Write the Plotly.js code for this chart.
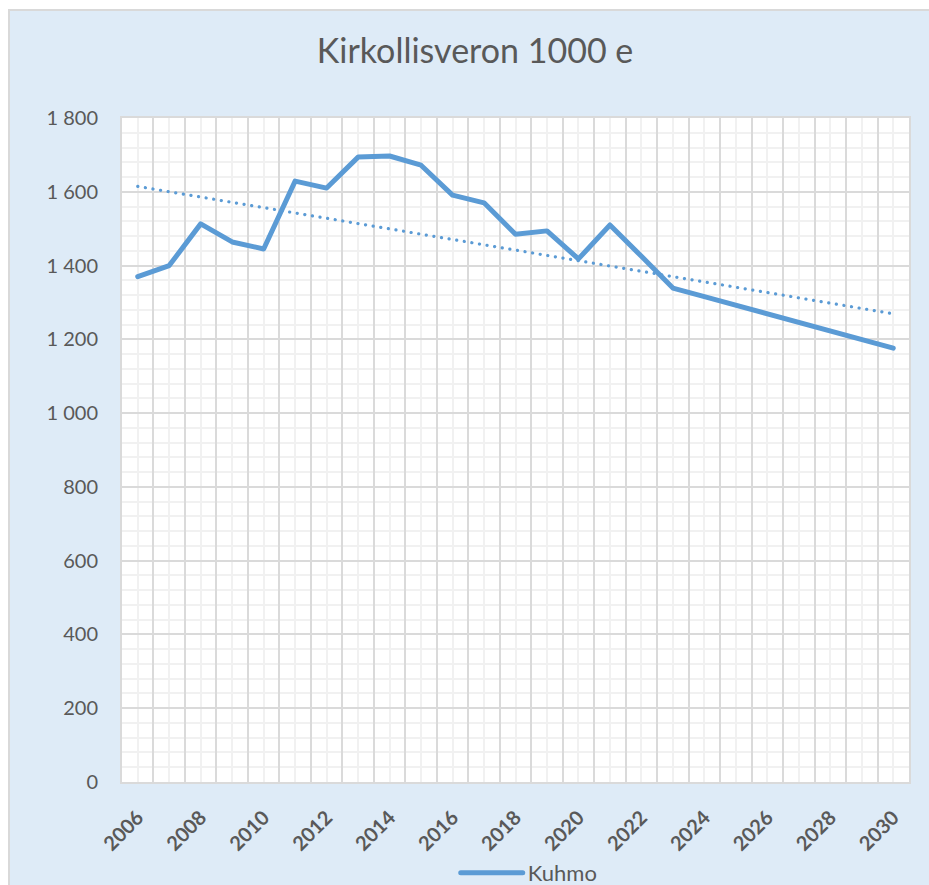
<!DOCTYPE html>
<html>
<head>
<meta charset="utf-8">
<script src="https://cdn.plot.ly/plotly-3.0.1.min.js"></script>
<style>
  html, body { margin: 0; padding: 0; background: #ffffff; width: 929px; height: 885px; overflow: hidden; }
  #frame { position: absolute; left: 8px; top: 9px; border-left: 2px solid #d9d9d9; border-top: 2px solid #d9d9d9; }
  #chart { width: 919px; height: 874px; }
  #chart .js-line, #chart .legendlines path { stroke-linecap: round !important; stroke-linejoin: round !important; }
</style>
</head>
<body>
<div id="frame"><div id="chart"></div></div>
<script>
// ---- data ----
const years = [2006, 2007, 2008, 2009, 2010, 2011, 2012, 2013, 2014, 2015, 2016, 2017,
               2018, 2019, 2020, 2021, 2022, 2023, 2024, 2025, 2026, 2027, 2028, 2029, 2030];
const kuhmo = [1370, 1400, 1513, 1464, 1445, 1629, 1610, 1694, 1697, 1672, 1591, 1570,
               1485, 1494, 1418, 1510, 1425, 1339, 1316, 1293, 1270, 1246, 1222, 1199, 1176];
const seriesName = 'Kuhmo';
const chartTitle = 'Kirkollisveron 1000 e';
const xTickVals = [2006, 2008, 2010, 2012, 2014, 2016, 2018, 2020, 2022, 2024, 2026, 2028, 2030];
const xTickText = ['2006', '2008', '2010', '2012', '2014', '2016', '2018', '2020', '2022', '2024', '2026', '2028', '2030'];
const yTickVals = [0, 200, 400, 600, 800, 1000, 1200, 1400, 1600, 1800];
const yTickText = ['0', '200', '400', '600', '800', '1 000', '1 200', '1 400', '1 600', '1 800'];

// ---- linear trendline (least squares, as the spreadsheet does) ----
const n = years.length;
const mx = years.reduce((a, b) => a + b, 0) / n;
const my = kuhmo.reduce((a, b) => a + b, 0) / n;
let sxy = 0, sxx = 0;
for (let i = 0; i < n; i++) { sxy += (years[i] - mx) * (kuhmo[i] - my); sxx += (years[i] - mx) ** 2; }
const slope = sxy / sxx;
const icpt = my - slope * mx;
const trendX = [years[0], years[n - 1]];
const trendY = trendX.map(x => icpt + slope * x);

// category boundaries (for the darker vertical grid)
const bounds = years.map(y => y - 0.5).concat([years[n - 1] + 0.5]);

const blue = '#5b9bd5';
const txt = '#595959';
const major = '#dadada';
const minorC = '#f1f1f1';
const font = 'Lato, "Open Sans", sans-serif';

const traces = [
  { x: years, y: kuhmo, type: 'scatter', mode: 'lines', name: seriesName,
    line: { color: blue, width: 5 }, xaxis: 'x', yaxis: 'y', hoverinfo: 'skip' },
  { x: trendX, y: trendY, type: 'scatter', mode: 'lines', showlegend: false,
    line: { color: blue, width: 3.2, dash: '0.1px,7.6px' }, xaxis: 'x2', yaxis: 'y', hoverinfo: 'skip' }
];

const xr = [years[0] - 0.5, years[n - 1] + 0.5];

const layout = {
  width: 919, height: 874,
  paper_bgcolor: '#deebf7', plot_bgcolor: '#ffffff',
  margin: { l: 112, r: 20, t: 107, b: 103 },
  font: { family: font, color: txt },
  hovermode: false, dragmode: false,
  title: { text: chartTitle, x: 0.506, xanchor: 'center', xref: 'container',
           y: 1 - 40 / 874, yanchor: 'middle', yref: 'container',
           font: { family: font, size: 34, color: txt } },
  showlegend: true,
  legend: { orientation: 'h', xref: 'container', yref: 'container', x: 0.565, xanchor: 'center',
            y: 12 / 874, yanchor: 'middle', font: { family: font, size: 22, color: txt },
            bgcolor: 'rgba(0,0,0,0)', itemwidth: 62 },
  xaxis: {
    type: 'linear', range: xr, tickmode: 'array', tickvals: xTickVals, ticktext: xTickText,
    tickangle: -45, tickfont: { family: font, size: 20, color: txt, weight: 'bold' },
    showgrid: false, zeroline: false, ticks: '', ticklabelstandoff: 14,
    showline: true, linecolor: major, linewidth: 2, mirror: true,
    minor: { tickmode: 'linear', tick0: years[0], dtick: 1, showgrid: true, gridcolor: minorC, gridwidth: 2, ticks: '' },
    fixedrange: true
  },
  xaxis2: {
    type: 'linear', range: xr, overlaying: 'x', tickmode: 'array', tickvals: bounds,
    ticktext: bounds.map(() => ''),
    showticklabels: false, showgrid: true, gridcolor: major, gridwidth: 2, zeroline: false, ticks: '',
    fixedrange: true
  },
  yaxis: {
    range: [0, 1800], tickmode: 'array', tickvals: yTickVals, ticktext: yTickText,
    tickfont: { family: font, size: 20, color: txt },
    showgrid: true, gridcolor: major, gridwidth: 2, zeroline: false, ticks: '', ticklabelstandoff: 18,
    showline: true, linecolor: major, linewidth: 2, mirror: true,
    minor: { tickmode: 'linear', tick0: 0, dtick: 40, showgrid: true, gridcolor: minorC, gridwidth: 2, ticks: '' },
    fixedrange: true
  }
};

Plotly.newPlot('chart', traces, layout, { displayModeBar: false, responsive: false });
</script>
</body>
</html>
